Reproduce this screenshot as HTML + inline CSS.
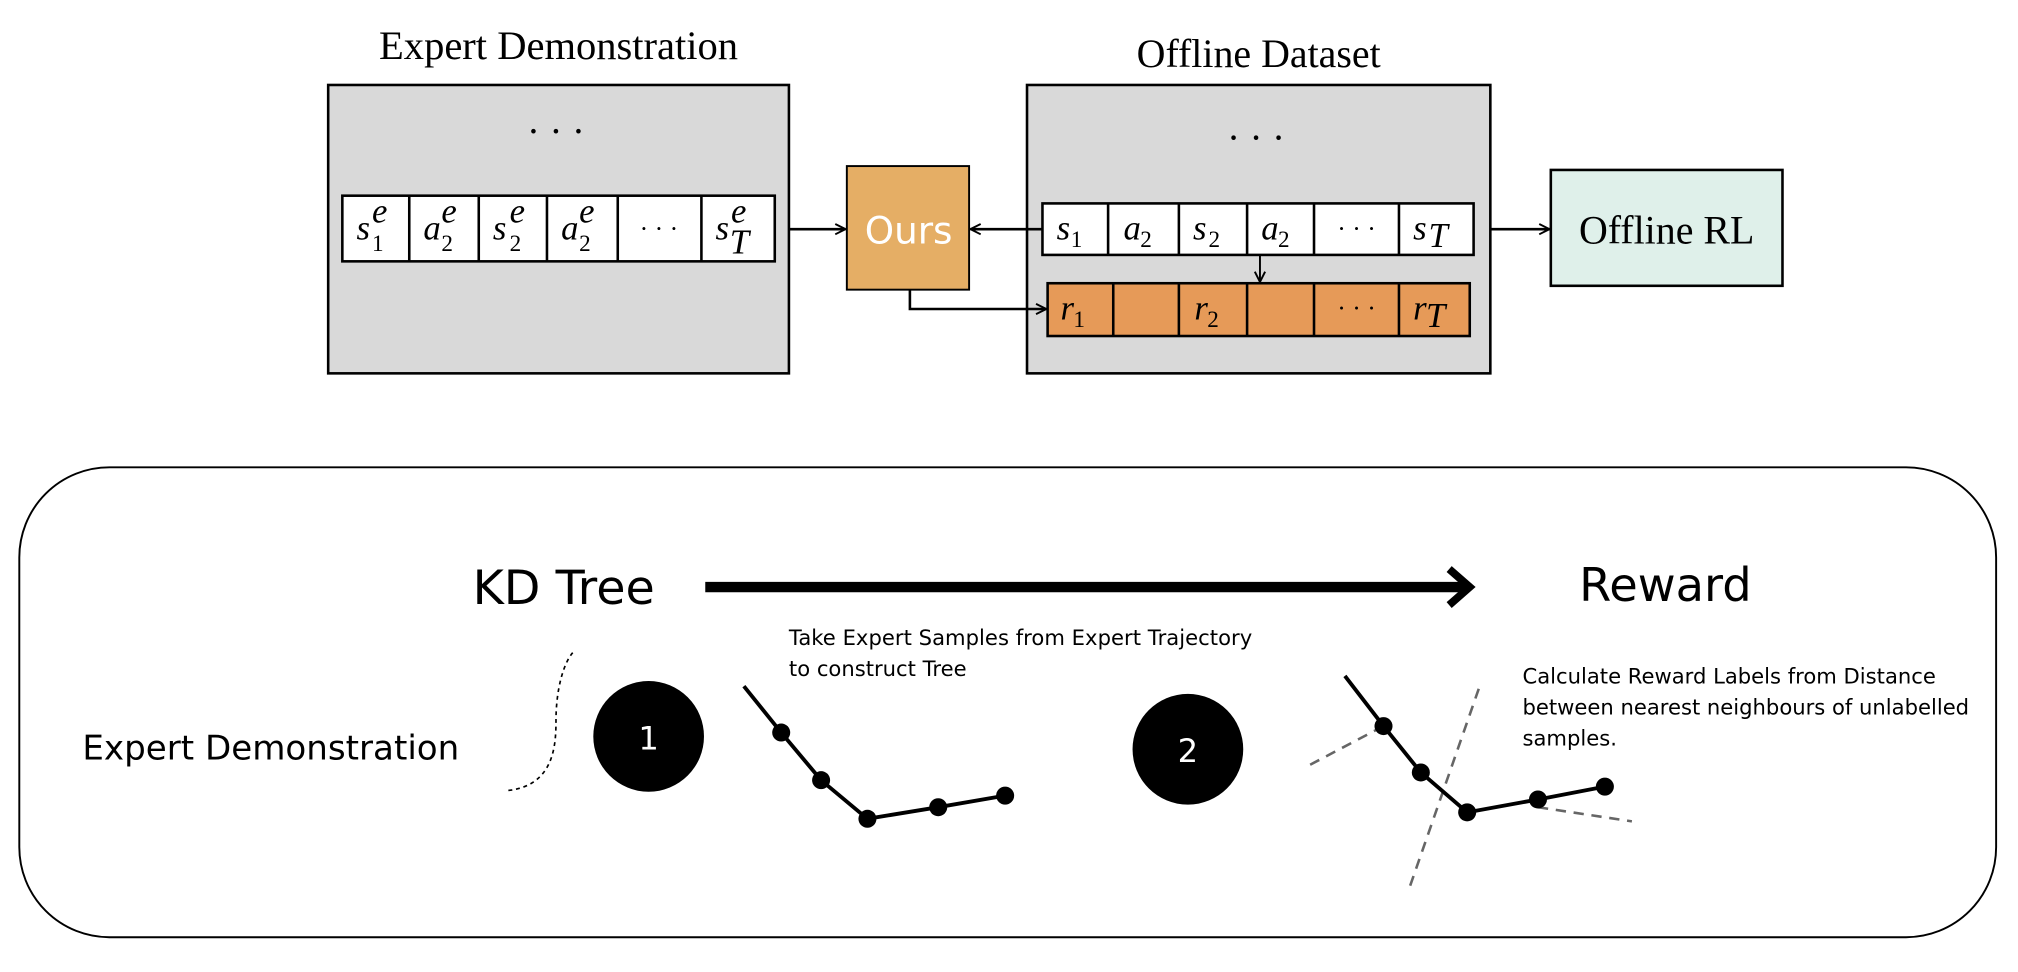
<!DOCTYPE html>
<html><head><meta charset="utf-8"><style>
html,body{margin:0;padding:0;background:#fff;}
svg{display:block;}
.serif{font-family:"Liberation Serif",serif;}
.sans{font-family:"DejaVu Sans","Liberation Sans",sans-serif;}
.m{font-family:"Liberation Serif",serif;font-style:italic;font-size:27px;}
</style></head><body>
<svg width="2018" height="972" viewBox="0 0 1568 755" preserveAspectRatio="none" xmlns="http://www.w3.org/2000/svg">
<defs>
<marker id="ah" markerWidth="10" markerHeight="10" refX="9" refY="5" orient="auto" markerUnits="userSpaceOnUse">
<path d="M1,1 L9,5 L1,9" fill="none" stroke="#000" stroke-width="1.5"/></marker>
</defs>
<text x="434" y="46" text-anchor="middle" class="serif" font-size="31.5">Expert Demonstration</text>
<text x="978" y="52" text-anchor="middle" class="serif" font-size="31">Offline Dataset</text>
<rect x="255" y="66" width="358" height="224" fill="#d9d9d9" stroke="#000" stroke-width="2"/>
<rect x="798" y="66" width="360" height="224" fill="#d9d9d9" stroke="#000" stroke-width="2"/>
<text x="432" y="112" text-anchor="middle" font-size="30" class="serif">· · ·</text>
<text x="976" y="117" text-anchor="middle" font-size="30" class="serif">· · ·</text>
<rect x="266" y="152" width="336" height="51" fill="#fff" stroke="#000" stroke-width="2"/>
<g stroke="#000" stroke-width="2"><line x1="318" y1="152" x2="318" y2="203"/><line x1="372" y1="152" x2="372" y2="203"/><line x1="425" y1="152" x2="425" y2="203"/><line x1="480" y1="152" x2="480" y2="203"/><line x1="545" y1="152" x2="545" y2="203"/></g>
<g class="m"><text x="277" y="186">s</text><text x="329" y="186">a</text><text x="383" y="186">s</text><text x="436" y="186">a</text><text x="556" y="186">s</text></g>
<g class="m" font-size="17"><text x="289" y="173">e</text><text x="343" y="173">e</text><text x="396" y="173">e</text><text x="450" y="173">e</text><text x="568" y="173">e</text></g>
<g class="serif" font-size="18"><text x="289" y="195">1</text><text x="343" y="195">2</text><text x="396" y="195">2</text><text x="450" y="195">2</text></g>
<text x="567" y="197" class="m" font-size="18">T</text>
<text x="512" y="184" text-anchor="middle" font-size="20" class="serif">· · ·</text>
<rect x="658" y="129" width="95" height="96" fill="#e5ae65" stroke="#000" stroke-width="1.5"/>
<text x="706" y="189" text-anchor="middle" class="sans" font-size="29" fill="#fff">Ours</text>
<line x1="613" y1="178" x2="657" y2="178" stroke="#000" stroke-width="2" marker-end="url(#ah)"/>
<line x1="810" y1="178" x2="754" y2="178" stroke="#000" stroke-width="2" marker-end="url(#ah)"/>
<rect x="810" y="158" width="335" height="40" fill="#fff" stroke="#000" stroke-width="2"/>
<g stroke="#000" stroke-width="2"><line x1="861" y1="158" x2="861" y2="198"/><line x1="916" y1="158" x2="916" y2="198"/><line x1="969" y1="158" x2="969" y2="198"/><line x1="1021" y1="158" x2="1021" y2="198"/><line x1="1087" y1="158" x2="1087" y2="198"/></g>
<g class="m"><text x="821" y="186">s</text><text x="873" y="186">a</text><text x="927" y="186">s</text><text x="980" y="186">a</text><text x="1098" y="186">s</text></g>
<g class="serif" font-size="18"><text x="832" y="192">1</text><text x="886" y="192">2</text><text x="939" y="192">2</text><text x="993" y="192">2</text></g>
<text x="1110" y="192" class="m" font-size="18">T</text>
<text x="1054" y="184" text-anchor="middle" font-size="20" class="serif">· · ·</text>
<line x1="979" y1="198" x2="979" y2="219" stroke="#000" stroke-width="1.5" marker-end="url(#ah)"/>
<rect x="814" y="220" width="328" height="41" fill="#e69a58" stroke="#000" stroke-width="2"/>
<g stroke="#000" stroke-width="2"><line x1="865" y1="220" x2="865" y2="261"/><line x1="916" y1="220" x2="916" y2="261"/><line x1="969" y1="220" x2="969" y2="261"/><line x1="1021" y1="220" x2="1021" y2="261"/><line x1="1087" y1="220" x2="1087" y2="261"/></g>
<g class="m"><text x="824" y="248">r</text><text x="928" y="248">r</text><text x="1098" y="248">r</text></g>
<g class="serif" font-size="18"><text x="834" y="254">1</text><text x="938" y="254">2</text></g>
<text x="1108" y="254" class="m" font-size="18">T</text>
<text x="1054" y="246" text-anchor="middle" font-size="20" class="serif">· · ·</text>
<polyline points="707,225 707,240 813,240" fill="none" stroke="#000" stroke-width="2" marker-end="url(#ah)"/>
<line x1="1158" y1="178" x2="1204" y2="178" stroke="#000" stroke-width="2" marker-end="url(#ah)"/>
<rect x="1205" y="132" width="180" height="90" fill="#dff0ea" stroke="#000" stroke-width="2"/>
<text x="1295" y="189" text-anchor="middle" class="serif" font-size="31">Offline RL</text>

<rect x="15" y="363" width="1536" height="365" rx="70" ry="70" fill="#fff" stroke="#000" stroke-width="1.5"/>
<text x="438" y="469" text-anchor="middle" class="sans" font-size="37">KD Tree</text>
<text x="1294" y="467" text-anchor="middle" class="sans" font-size="36">Reward</text>
<line x1="548" y1="456" x2="1138" y2="456" stroke="#000" stroke-width="8"/>
<path d="M1126,442 L1142,456 L1126,470" fill="none" stroke="#000" stroke-width="6"/>
<text x="613" y="501" class="sans" font-size="16.4" textLength="360">Take Expert Samples from Expert Trajectory</text>
<text x="613" y="525" class="sans" font-size="16.4">to construct Tree</text>
<text x="1183" y="531" class="sans" font-size="16.4">Calculate Reward Labels from Distance</text>
<text x="1183" y="555" class="sans" font-size="16.4" textLength="347">between nearest neighbours of unlabelled</text>
<text x="1183" y="579" class="sans" font-size="16.4">samples.</text>
<text x="64" y="590" class="sans" font-size="26.5">Expert Demonstration</text>
<path d="M395,614 C430,610 432,580 432,560 C432,535 438,515 445,507" fill="none" stroke="#000" stroke-width="1.3" stroke-dasharray="3,3"/>
<circle cx="504" cy="572" r="43" fill="#000"/>
<text x="504" y="582" text-anchor="middle" class="sans" font-size="25" fill="#fff">1</text>
<circle cx="923" cy="582" r="43" fill="#000"/>
<text x="923" y="592" text-anchor="middle" class="sans" font-size="25" fill="#fff">2</text>
<polyline points="578,533 607,569 638,606 674,636 729,627 781,618" fill="none" stroke="#000" stroke-width="3"/>
<g fill="#000"><circle cx="607" cy="569" r="7"/><circle cx="638" cy="606" r="7"/><circle cx="674" cy="636" r="7"/><circle cx="729" cy="627" r="7"/><circle cx="781" cy="618" r="7"/></g>
<g stroke="#666" stroke-width="2" stroke-dasharray="8,6" fill="none"><line x1="1018" y1="594" x2="1075" y2="564"/><line x1="1149" y1="535" x2="1095" y2="690"/><line x1="1195" y1="627" x2="1268" y2="638"/></g>
<polyline points="1045,525 1075,564 1104,600 1140,631 1195,621 1247,611" fill="none" stroke="#000" stroke-width="3"/>
<g fill="#000"><circle cx="1075" cy="564" r="7"/><circle cx="1104" cy="600" r="7"/><circle cx="1140" cy="631" r="7"/><circle cx="1195" cy="621" r="7"/><circle cx="1247" cy="611" r="7"/></g>
</svg>
</body></html>
